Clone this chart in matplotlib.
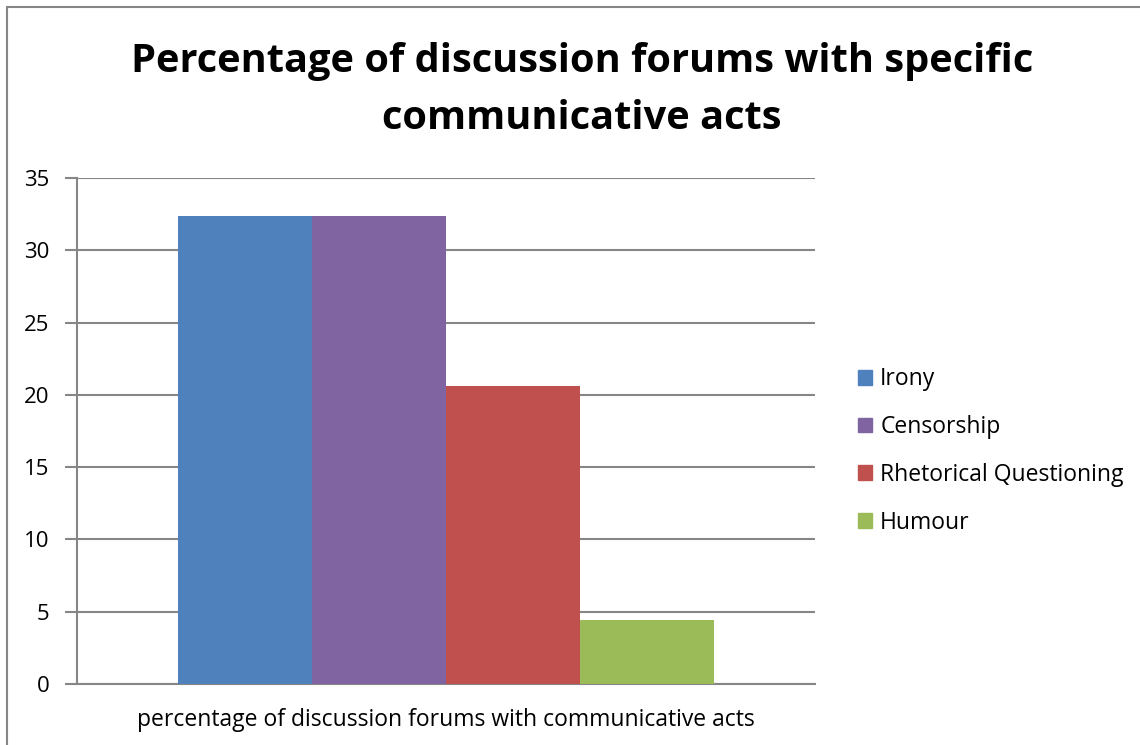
import matplotlib
matplotlib.use("Agg")
import matplotlib.pyplot as plt
from matplotlib.patches import Rectangle, Patch

categories = ["percentage of discussion forums with communicative acts"]
series_names = ["Irony", "Censorship", "Rhetorical Questioning", "Humour"]
series_values = [32.35, 32.35, 20.59, 4.41]
colors = ["#4F81BD", "#8064A2", "#C0504D", "#9BBB59"]
yticks = [0, 5, 10, 15, 20, 25, 30, 35]

plt.rcParams['font.family'] = ['Open Sans', 'DejaVu Sans']

W, H = 1140, 745
fig = plt.figure(figsize=(W/100, H/100), dpi=100)
ax = fig.add_axes([77/W, 1-684/H, (815-77)/W, (684-178)/H])

bw = 0.7276/4
for i, (name, v, c) in enumerate(zip(series_names, series_values, colors)):
    ax.bar(0 + (i-1.5)*bw, v, width=bw, color=c, label=name, zorder=3)

ax.set_xlim(-0.5, 0.5)
ax.set_ylim(0, 35)
ax.set_yticks(yticks)
ax.set_yticklabels([str(t) for t in yticks], fontsize=16)
ax.set_xticks([0])
ax.set_xticklabels(categories, fontsize=16.5)
ax.tick_params(axis='x', length=0, pad=17)
ax.tick_params(axis='y', length=9, color='#868686', width=1.5, pad=11)
ax.yaxis.grid(True, color='#868686', linewidth=1.5, zorder=0)
for s in ['top', 'right']:
    ax.spines[s].set_visible(False)
ax.spines['left'].set_color('#868686')
ax.spines['left'].set_linewidth(1.5)
ax.spines['bottom'].set_color('#868686')
ax.spines['bottom'].set_linewidth(1.5)

fig.text(582/W, 1-90/H, "Percentage of discussion forums with specific\ncommunicative acts",
         ha='center', va='center', fontsize=28.6, fontweight='bold', linespacing=1.58)

handles = [Patch(color=c, label=n) for n, c in zip(series_names, colors)]
fig.legend(handles=handles, loc='center left', bbox_to_anchor=(837.5/W, 1-451/H),
           frameon=False, fontsize=16.5, handlelength=0.61, handleheight=0.61,
           handletextpad=0.35, labelspacing=1.04)

fig.add_artist(Rectangle((7/W, -0.1), 1.2, (H-7)/H + 0.1, transform=fig.transFigure,
                         fill=False, edgecolor='#868686', linewidth=1.5))

fig.savefig("out.png", dpi=100)
